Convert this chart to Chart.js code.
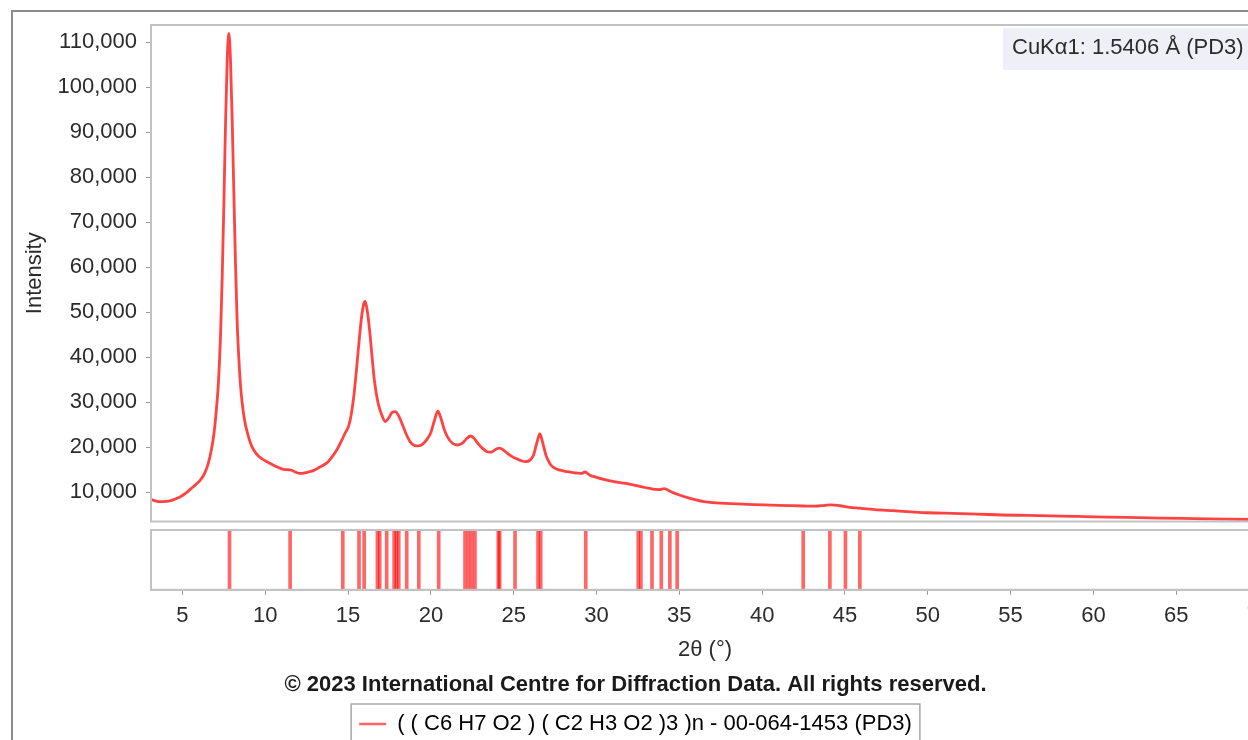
<!DOCTYPE html>
<html><head><meta charset="utf-8">
<script src="https://cdn.jsdelivr.net/npm/chart.js@4.4.1/dist/chart.umd.min.js"></script>
<style>
html,body{margin:0;padding:0;background:#fff;overflow:hidden;width:1248px;height:740px}
#frame{position:absolute;left:11px;top:10px;width:1300px;height:800px;border:2px solid #8c8c8c;box-sizing:border-box}
.c{position:absolute;left:0;top:0}
</style></head>
<body>
<div id="frame"></div>
<canvas id="main" class="c" width="1272" height="760"></canvas>
<canvas id="sticks" class="c" width="1272" height="760"></canvas>
<script>
// ---- data ----
const twoTheta = [3.10,3.40,3.70,4.00,4.30,4.60,4.90,5.20,5.50,5.80,6.10,6.35,6.55,6.75,6.90,7.05,7.17,7.30,7.40,7.50,7.60,7.70,7.80,7.90,8.00,8.10,8.20,8.30,8.40,8.50,8.60,8.75,8.90,9.10,9.30,9.60,9.90,10.20,10.50,10.80,11.10,11.40,11.60,11.80,12.05,12.30,12.60,12.90,13.20,13.50,13.80,14.10,14.35,14.60,14.80,15.05,15.20,15.35,15.50,15.65,15.80,15.95,16.03,16.15,16.30,16.45,16.60,16.80,17.00,17.25,17.45,17.65,17.85,18.05,18.25,18.50,18.75,19.00,19.25,19.50,19.75,20.00,20.20,20.42,20.60,20.80,21.00,21.30,21.60,21.90,22.15,22.40,22.60,22.85,23.10,23.40,23.65,23.90,24.15,24.40,24.70,25.00,25.40,25.70,26.00,26.20,26.40,26.58,26.75,26.95,27.20,27.45,27.80,28.20,28.70,29.10,29.30,29.60,30.00,30.50,31.00,31.50,32.00,32.50,33.00,33.40,33.80,34.10,34.40,34.70,35.00,35.50,36.00,36.50,37.00,37.80,38.50,39.50,40.50,41.50,42.50,43.20,43.80,44.20,44.70,45.20,45.90,46.80,47.90,49.00,50.00,51.50,53.00,54.50,56.00,58.00,60.00,62.00,64.00,66.00,68.00,70.00];
const intensity = [8400,8050,7900,7950,8150,8550,9050,9800,10750,11700,12800,14300,16300,19500,23000,28500,34300,45000,58000,74000,92000,106000,112000,106000,93000,77000,61000,48000,40000,34000,30000,26000,23500,21000,19400,18000,17200,16600,16000,15500,15100,15000,14900,14500,14200,14250,14500,14800,15400,16000,16800,18200,19600,21400,23000,24900,27500,31500,37000,43000,48500,52000,52400,50500,46000,40000,34500,30000,27500,25700,26500,27700,27900,27000,25300,23000,21200,20400,20300,20700,21700,23300,25800,28000,26500,24000,22300,20900,20500,20900,21900,22500,22000,20800,19800,19000,18900,19500,19800,19300,18400,17700,17100,16800,17200,18300,21000,23000,21000,18200,16300,15400,14900,14600,14300,14200,14500,13800,13300,12800,12400,12100,11800,11400,11000,10700,10600,10800,10300,9800,9400,8800,8300,7900,7700,7550,7400,7250,7150,7050,6950,6900,7100,7200,7000,6700,6450,6150,5900,5650,5450,5300,5150,4950,4850,4700,4550,4400,4250,4150,4050,3950];
const stickPos = [7.84,11.50,14.68,15.66,15.97,16.77,16.91,17.33,17.78,17.92,18.06,18.54,19.27,20.47,22.06,22.26,22.46,22.66,24.07,24.15,25.08,26.47,26.63,29.35,32.52,32.68,33.35,33.91,34.43,34.87,42.48,44.09,45.03,45.90];
const stickHeight = stickPos.map(() => 1);
const yTicks = [10000,20000,30000,40000,50000,60000,70000,80000,90000,100000,110000];
const xTicks = [5,10,15,20,25,30,35,40,45,50,55,60,65,70];
const phaseLabel = '( ( C6 H7 O2 ) ( C2 H3 O2 )3 )n - 00-064-1453 (PD3)';
const copyrightText = '\u00A9 2023 International Centre for Diffraction Data. All rights reserved.';
const wavelengthText = 'CuK\u03B11: 1.5406 \u00C5 (PD3)';
const X_MIN = 3.1, X_MAX = 70.0, Y_MIN = 3500, Y_MAX = 113850;

const FONT = "'Liberation Sans', Arial, Helvetica, sans-serif";
Chart.defaults.font.family = FONT;
Chart.defaults.font.size = 22;
Chart.defaults.color = '#2b2b2b';

const fmt = v => String(v).replace(/\B(?=(\d{3})+(?!\d))/g, ',');
const AXIS_GREY = '#c2c2c2';

const framePlugin = {
  id: 'frameBox',
  afterDraw(chart) {
    const {ctx, chartArea: a} = chart;
    ctx.save();
    ctx.strokeStyle = AXIS_GREY; ctx.lineWidth = 2;
    ctx.strokeRect(a.left, a.top, a.right - a.left, a.bottom - a.top);
    ctx.restore();
  }
};
const wavelengthPlugin = {
  id: 'wavelength',
  afterDraw(chart) {
    const {ctx, chartArea: a} = chart;
    ctx.save();
    ctx.fillStyle = '#efeff7';
    ctx.fillRect(a.right - 256, a.top + 3, 253, 42);
    ctx.fillStyle = '#2b2b2b';
    ctx.font = "22px " + FONT;
    ctx.textBaseline = 'middle';
    ctx.fillText(wavelengthText, a.right - 247, a.top + 23);
    ctx.restore();
  }
};
const legendBoxPlugin = {
  id: 'legendBox',
  afterDraw(chart) {
    const lg = chart.legend;
    if (!lg || !lg.legendHitBoxes || !lg.legendHitBoxes.length) return;
    const hb = lg.legendHitBoxes[0];
    const ctx = chart.ctx;
    ctx.save();
    ctx.strokeStyle = '#a8a8a8'; ctx.lineWidth = 1.5;
    ctx.strokeRect(hb.left - 8, hb.top - 9, hb.width + 16, hb.height + 40);
    ctx.restore();
  }
};

new Chart(document.getElementById('main'), {
  type: 'line',
  data: { datasets: [{
    label: phaseLabel,
    data: twoTheta.map((x, i) => ({x, y: intensity[i]})),
    borderColor: '#ff4242', borderWidth: 2.8, pointRadius: 0,
    cubicInterpolationMode: 'monotone', fill: false
  }]},
  options: {
    responsive: false, animation: false, events: [],
    layout: { padding: { left: 12, top: 25, right: 13, bottom: 238.5 } },
    plugins: { legend: {display: false}, title: {display: false}, tooltip: {enabled: false} },
    scales: {
      x: { type: 'linear', min: X_MIN, max: X_MAX, display: false },
      y: {
        type: 'linear', min: Y_MIN, max: Y_MAX,
        afterBuildTicks: s => { s.ticks = yTicks.map(v => ({value: v})); },
        afterFit: s => { s.width = 139; s.paddingTop = 0; s.paddingBottom = 0; },
        ticks: { padding: 9, font: {size: 22}, callback: v => fmt(v) },
        grid: { drawOnChartArea: false, drawTicks: true, tickLength: 5, color: '#9a9a9a' },
        border: { display: true, color: AXIS_GREY, width: 2 },
        title: { display: true, text: 'Intensity', font: {size: 22}, padding: {top: 10, bottom: 0} }
      }
    }
  },
  plugins: [framePlugin, wavelengthPlugin]
});

new Chart(document.getElementById('sticks'), {
  type: 'bar',
  data: { datasets: [{
    label: phaseLabel,
    data: stickPos.map((x, i) => ({x, y: stickHeight[i]})),
    backgroundColor: 'rgba(255,0,0,0.6)', borderWidth: 0,
    barThickness: 3, grouped: false
  }]},
  options: {
    responsive: false, animation: false, events: [],
    layout: { padding: { left: 12, top: 530, right: 13, bottom: 15 } },
    plugins: {
      tooltip: {enabled: false},
      title: { display: true, position: 'bottom', text: copyrightText, color: '#1a1a1a',
               font: {size: 22, weight: 'bold'}, padding: {top: 4.6, bottom: 4.8}, weight: 500 },
      legend: { display: true, position: 'bottom', weight: 1000,
        labels: { usePointStyle: true, pointStyleWidth: 27, padding: 10, font: {size: 22},
          generateLabels: () => [{ text: phaseLabel, fillStyle: '#ff6666', strokeStyle: '#ff6464',
            lineWidth: 2.5, pointStyle: 'line', hidden: false, datasetIndex: 0 }] } }
    },
    scales: {
      x: {
        type: 'linear', min: X_MIN, max: X_MAX, offset: false,
        afterBuildTicks: s => { s.ticks = xTicks.map(v => ({value: v})); },
        afterFit: s => { s.paddingLeft = 0; s.paddingRight = 0; },
        ticks: { padding: 7.8, font: {size: 22}, maxRotation: 0, autoSkip: false },
        grid: { offset: false, drawOnChartArea: false, drawTicks: true, tickLength: 5, color: '#9a9a9a' },
        border: { display: true, color: AXIS_GREY, width: 2 },
        title: { display: true, text: '2\u03B8 (\u00B0)', font: {size: 22}, padding: {top: 0, bottom: 4} }
      },
      y: {
        min: 0, max: 1, display: true,
        ticks: {display: false}, grid: {display: false}, border: {display: false},
        afterFit: s => { s.width = 139; s.paddingTop = 0; s.paddingBottom = 0; }
      }
    }
  },
  plugins: [framePlugin, legendBoxPlugin]
});
</script>
</body></html>
